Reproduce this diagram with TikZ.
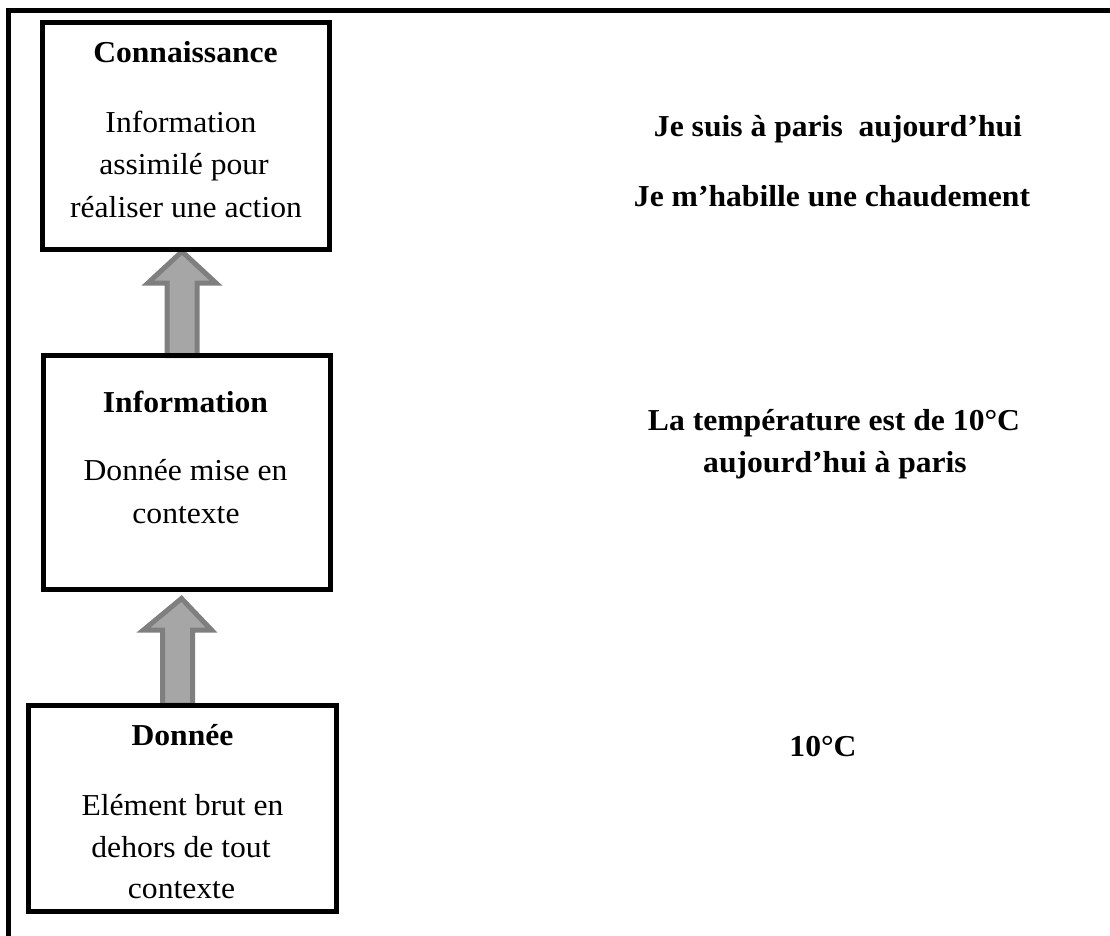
\documentclass[tikz,border=0pt]{standalone}
\usepackage{fontspec}
\setmainfont{Liberation Serif}[FakeStretch=1.04]
\usetikzlibrary{calc}
\definecolor{arrowfill}{HTML}{A6A6A6}
\definecolor{arrowline}{HTML}{7F7F7F}
\begin{document}
\begin{tikzpicture}[x=1pt,y=-1pt,
  box/.style={draw=black, line width=5pt, inner sep=0pt, outer sep=0pt},
  lbl/.style={inner sep=0pt, anchor=base, font=\fontsize{30.4}{42}\selectfont},
  ttl/.style={lbl, font=\fontsize{30.4}{42}\selectfont\bfseries},
  bigarrow/.style={draw=arrowline, fill=arrowfill, line width=5pt}]
\useasboundingbox (0,0) rectangle (1110,936);

% outer frame (runs past the page on the right and bottom)
\begin{scope}
  \clip (0,0) rectangle (1110,936);
  \draw[line width=5pt] (8.5,10.5) rectangle (1200,1000);
\end{scope}

% the three level boxes
\node[box, minimum width=287pt, minimum height=226.5pt] (con) at (186,135.75) {};
\node[box, minimum width=287pt, minimum height=233.5pt] (inf) at (186.5,472.25) {};
\node[box, minimum width=308pt, minimum height=206.5pt] (don) at (182.5,808.25) {};

% block arrows between the levels
\draw[bigarrow] let \p1=($(don.north)+(-5,0)$), \p2=($(inf.south)+(-5,0)$) in
  (\x1-15pt,\y1) -- (\x1-15pt,\y2-41pt) -- (\x1-34pt,\y2-41pt) -- (\x2,\y2-9.5pt)
  -- (\x1+34pt,\y2-41pt) -- (\x1+15pt,\y2-41pt) -- (\x1+15pt,\y1) -- cycle;
\draw[bigarrow] let \p1=($(inf.north)+(-4.5,0)$), \p2=($(con.south)+(-4,0)$) in
  (\x1-15pt,\y1) -- (\x1-15pt,\y2-34pt) -- (\x1-34pt,\y2-34pt) -- (\x2,\y2-2.5pt)
  -- (\x1+34pt,\y2-34pt) -- (\x1+15pt,\y2-34pt) -- (\x1+15pt,\y1) -- cycle;

% redraw box borders over the arrow ends
\node[box, minimum width=287pt, minimum height=226.5pt] (con-b) at (con) {};
\node[box, minimum width=287pt, minimum height=233.5pt] (inf-b) at (inf) {};
\node[box, minimum width=308pt, minimum height=206.5pt] (don-b) at (don) {};

% Connaissance
\node[ttl] (con-t) at (185.5,63) {Connaissance};
\node[lbl] (con-1) at (181,133) {Information};
\node[lbl] (con-2) at (184,175) {assimilé pour};
\node[lbl] (con-3) at (186,217) {réaliser une action};

% Information
\node[ttl] (inf-t) at (185.5,412) {Information};
\node[lbl] (inf-1) at (185.5,480) {Donnée mise en};
\node[lbl] (inf-2) at (186,523) {contexte};

% Donnée
\node[ttl] (don-t) at (182.5,745) {Donnée};
\node[lbl] (don-1) at (182.5,815) {Elément brut en};
\node[lbl] (don-2) at (181,857) {dehors de tout};
\node[lbl] (don-3) at (181.5,898) {contexte};

% examples
\node[ttl] (ex-1) at (838,137) {Je suis à paris\ \ aujourd’hui};
\node[ttl] (ex-2) at (832,206) {Je m’habille une chaudement};
\node[ttl] (ex-3) at (834,430) {La température est de 10°C};
\node[ttl] (ex-4) at (835,472) {aujourd’hui à paris};
\node[ttl] (ex-5) at (823,756) {10°C};
\end{tikzpicture}
\end{document}
